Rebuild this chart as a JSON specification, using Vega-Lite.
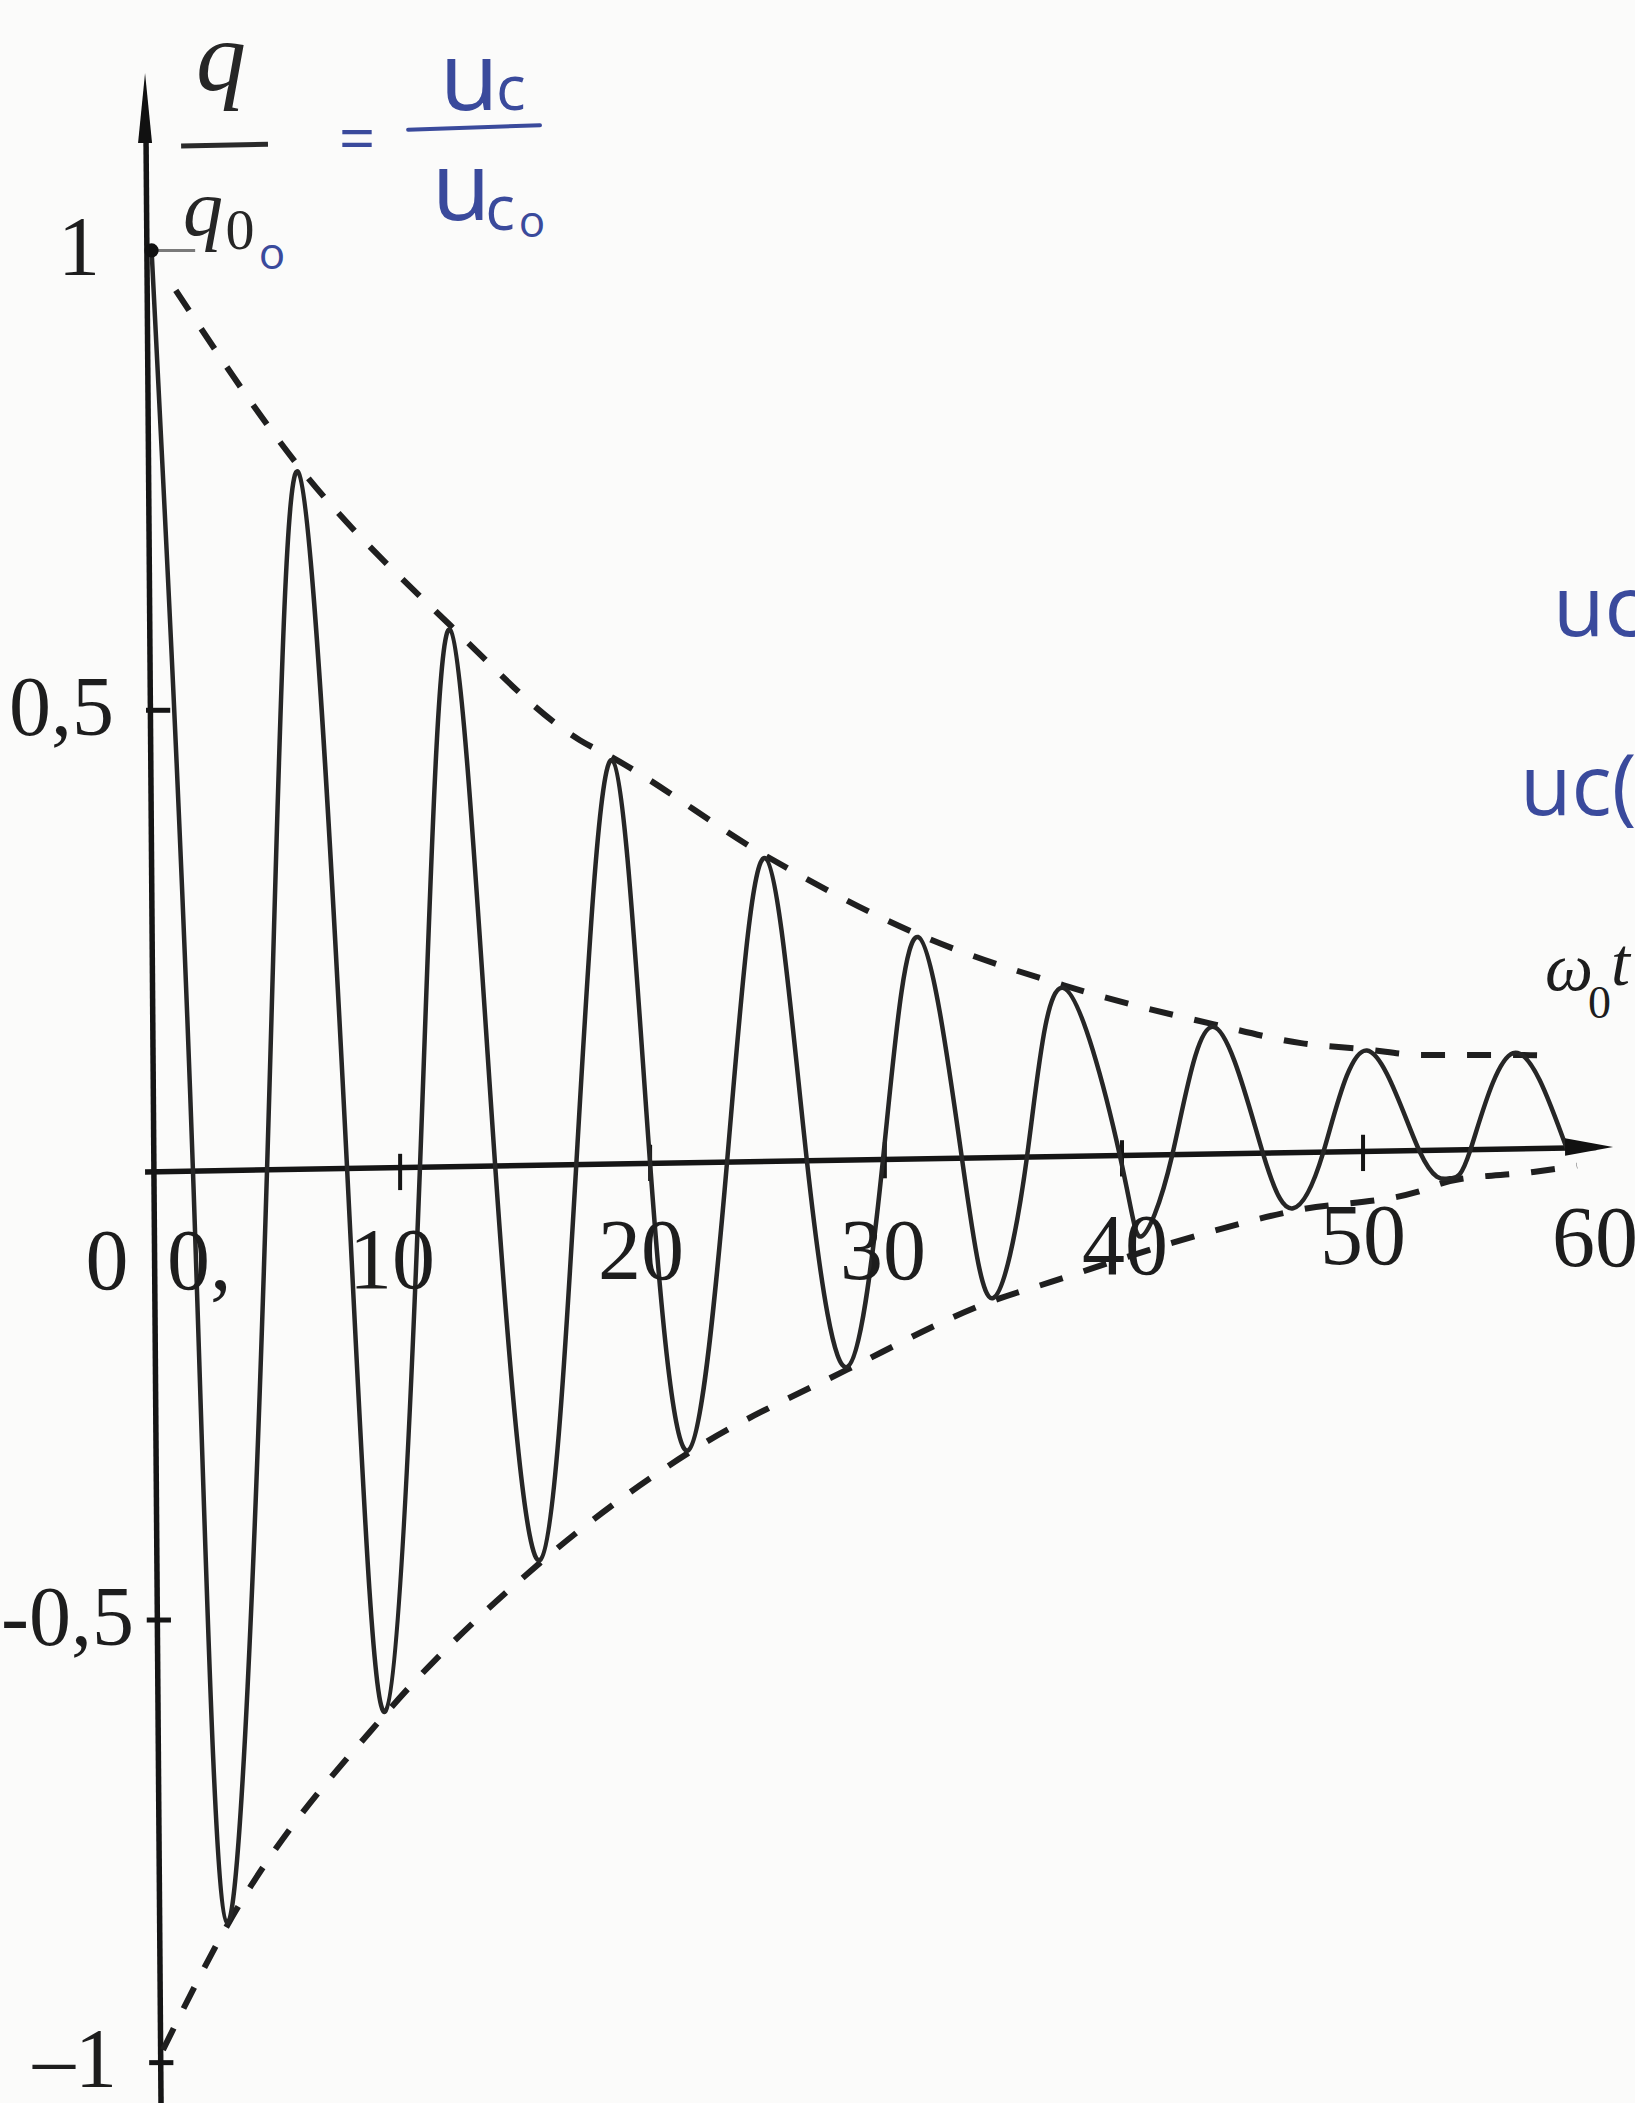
{
  "$schema": "https://vega.github.io/schema/vega-lite/v6.json",
  "width": 1635,
  "height": 2103,
  "autosize": "none",
  "padding": 0,
  "background": "#fbfbfa",
  "config": {"view": {"stroke": null}},
  "datasets": {
    "curve": [
      {"t": -0.1, "v": 1.005}, {"t": 1.61, "v": -0.010}, {"t": 3.02, "v": -0.839}, {"t": 4.67, "v": -0.009},
      {"t": 5.95, "v": 0.761}, {"t": 7.98, "v": -0.008}, {"t": 9.55, "v": -0.606}, {"t": 10.99, "v": -0.006},
      {"t": 12.23, "v": 0.587}, {"t": 14.1, "v": -0.005}, {"t": 15.95, "v": -0.439}, {"t": 17.45, "v": -0.003},
      {"t": 18.93, "v": 0.443}, {"t": 20.5, "v": -0.002}, {"t": 22.07, "v": -0.318}, {"t": 23.68, "v": 0.0},
      {"t": 25.25, "v": 0.335}, {"t": 26.98, "v": 0.001}, {"t": 28.64, "v": -0.226}, {"t": 30.12, "v": 0.002},
      {"t": 31.57, "v": 0.248}, {"t": 33.39, "v": 0.003}, {"t": 34.67, "v": -0.150}, {"t": 36.07, "v": 0.005},
      {"t": 37.56, "v": 0.192}, {"t": 39.92, "v": 0.006}, {"t": 40.8, "v": -0.082}, {"t": 42.07, "v": 0.007},
      {"t": 43.76, "v": 0.149}, {"t": 45.83, "v": 0.009}, {"t": 47.07, "v": -0.051}, {"t": 48.31, "v": 0.010},
      {"t": 50.12, "v": 0.123}, {"t": 52.31, "v": 0.011}, {"t": 53.55, "v": -0.018}, {"t": 54.38, "v": 0.012},
      {"t": 56.16, "v": 0.120}, {"t": 58.39, "v": 0.014}
    ],
    "upper": [
      {"t": 0.9, "v": 0.961}, {"t": 5.95, "v": 0.768}, {"t": 12.23, "v": 0.592}, {"t": 17.6, "v": 0.465},
      {"t": 18.93, "v": 0.446}, {"t": 25.25, "v": 0.338}, {"t": 31.57, "v": 0.251}, {"t": 37.56, "v": 0.195},
      {"t": 39.09, "v": 0.183}, {"t": 43.76, "v": 0.152}, {"t": 47.4, "v": 0.131}, {"t": 50.12, "v": 0.124},
      {"t": 52.4, "v": 0.118}, {"t": 56.16, "v": 0.118}, {"t": 57.8, "v": 0.117}
    ],
    "lower": [
      {"t": 0.37, "v": -0.979}, {"t": 3.02, "v": -0.842}, {"t": 9.55, "v": -0.609}, {"t": 15.95, "v": -0.442},
      {"t": 22.07, "v": -0.321}, {"t": 28.64, "v": -0.229}, {"t": 34.67, "v": -0.153}, {"t": 37.1, "v": -0.132},
      {"t": 42.1, "v": -0.089}, {"t": 47.07, "v": -0.054}, {"t": 52.2, "v": -0.033}, {"t": 53.55, "v": -0.021},
      {"t": 57.0, "v": -0.011}, {"t": 58.8, "v": -0.004}
    ],
    "axes": [
      {"name": "x", "t": -0.37, "v": -0.011, "t2": 59.6, "v2": 0.016},
      {"name": "y", "t": -0.33, "v": 1.13, "t2": 0.29, "v2": -1.0375}
    ],
    "xticks": [
      {"t": 10.17, "lo": -0.031, "hi": 0.009},
      {"t": 20.5, "lo": -0.021, "hi": 0.019},
      {"t": 30.2, "lo": -0.018, "hi": 0.022},
      {"t": 40.0, "lo": -0.016, "hi": 0.024},
      {"t": 49.96, "lo": -0.010, "hi": 0.030}
    ],
    "yticks": [
      {"v": 0.498, "lo": -0.33, "hi": 0.67},
      {"v": -0.505, "lo": -0.3, "hi": 0.7},
      {"v": -0.993, "lo": -0.2, "hi": 0.8}
    ],
    "fracbars": [
      {"ink": "print", "t": 1.12, "v": 1.120, "t2": 4.71, "v2": 1.122},
      {"ink": "pen", "t": 10.5, "v": 1.138, "t2": 15.95, "v2": 1.143}
    ],
    "leader": [{"t": -0.1, "v": 1.005, "t2": 1.7}],
    "origin": [{"t": -0.1, "v": 1.005}],
    "arrowY": [{"t": -0.37, "v": 1.162}],
    "arrowX": [{"t": 59.3, "v": 0.0165}],
    "ylabels": [
      {"t": -2.23, "v": 1.006, "label": "1"},
      {"t": -1.65, "v": 0.498, "label": "0,5"},
      {"t": -0.83, "v": -0.505, "label": "-0,5"},
      {"t": -1.53, "v": -0.992, "label": "–1"}
    ],
    "xlabels": [
      {"t": -1.94, "v": -0.111, "label": "0"},
      {"t": 9.83, "v": -0.110, "label": "10"},
      {"t": 20.12, "v": -0.100, "label": "20"},
      {"t": 30.12, "v": -0.100, "label": "30"},
      {"t": 40.12, "v": -0.095, "label": "40"},
      {"t": 49.96, "v": -0.084, "label": "50"},
      {"t": 59.55, "v": -0.086, "label": "60"}
    ],
    "extra": [{"t": 0.54, "v": -0.111, "label": "0,"}],
    "qtop": [{"t": 2.77, "v": 1.182, "label": "q"}],
    "qbottom": [{"t": 2.02, "v": 1.022, "label": "q"}],
    "qsub": [{"t": 3.55, "v": 1.025, "label": "0"}],
    "axisname": [
      {"part": "main", "t": 57.48, "v": 0.190, "label": "ω"},
      {"part": "main", "t": 60.21, "v": 0.195, "label": "t"},
      {"part": "sub", "t": 59.26, "v": 0.159, "label": "0"}
    ],
    "pen": [
      {"size": "u", "t": 13.02, "v": 1.160, "label": "u"},
      {"size": "c", "t": 14.75, "v": 1.160, "label": "c"},
      {"size": "u", "t": 12.69, "v": 1.039, "label": "u"},
      {"size": "c", "t": 14.30, "v": 1.028, "label": "c"},
      {"size": "o", "t": 15.62, "v": 1.020, "label": "o"},
      {"size": "o", "t": 4.88, "v": 0.985, "label": "o"},
      {"size": "eq", "t": 8.39, "v": 1.125, "label": "="}
    ],
    "margin": [
      {"t": 57.81, "v": 0.608, "label": "uc("},
      {"t": 56.45, "v": 0.410, "label": "uc("}
    ]
  },
  "layer": [
    {
      "data": {"name": "axes"},
      "mark": {"type": "rule", "color": "#151515", "strokeWidth": 5.5},
      "encoding": {
        "x": {"field": "t", "type": "quantitative", "scale": {"domain": [-6.364, 61.198], "nice": false, "zero": false}, "axis": null},
        "y": {"field": "v", "type": "quantitative", "scale": {"domain": [-1.0375, 1.2811], "nice": false, "zero": false}, "axis": null},
        "x2": {"field": "t2"},
        "y2": {"field": "v2"}
      }
    },
    {
      "data": {"name": "xticks"},
      "mark": {"type": "rule", "color": "#151515", "strokeWidth": 4},
      "encoding": {
        "x": {"field": "t", "type": "quantitative", "scale": {"domain": [-6.364, 61.198], "nice": false, "zero": false}, "axis": null},
        "y": {"field": "lo", "type": "quantitative", "scale": {"domain": [-1.0375, 1.2811], "nice": false, "zero": false}, "axis": null},
        "y2": {"field": "hi"}
      }
    },
    {
      "data": {"name": "yticks"},
      "mark": {"type": "rule", "color": "#151515", "strokeWidth": 5},
      "encoding": {
        "x": {"field": "lo", "type": "quantitative", "scale": {"domain": [-6.364, 61.198], "nice": false, "zero": false}, "axis": null},
        "x2": {"field": "hi"},
        "y": {"field": "v", "type": "quantitative", "scale": {"domain": [-1.0375, 1.2811], "nice": false, "zero": false}, "axis": null}
      }
    },
    {
      "data": {"name": "leader"},
      "mark": {"type": "rule", "color": "#7a7a7a", "strokeWidth": 3},
      "encoding": {
        "x": {"field": "t", "type": "quantitative", "scale": {"domain": [-6.364, 61.198], "nice": false, "zero": false}, "axis": null},
        "x2": {"field": "t2"},
        "y": {"field": "v", "type": "quantitative", "scale": {"domain": [-1.0375, 1.2811], "nice": false, "zero": false}, "axis": null}
      }
    },
    {
      "data": {"name": "upper"},
      "mark": {"type": "line", "color": "#1f1f1f", "strokeWidth": 6, "strokeDash": [24, 22], "interpolate": "monotone"},
      "encoding": {
        "x": {"field": "t", "type": "quantitative", "scale": {"domain": [-6.364, 61.198], "nice": false, "zero": false}, "axis": null},
        "y": {"field": "v", "type": "quantitative", "scale": {"domain": [-1.0375, 1.2811], "nice": false, "zero": false}, "axis": null}
      }
    },
    {
      "data": {"name": "lower"},
      "mark": {"type": "line", "color": "#1f1f1f", "strokeWidth": 6, "strokeDash": [24, 22], "interpolate": "monotone"},
      "encoding": {
        "x": {"field": "t", "type": "quantitative", "scale": {"domain": [-6.364, 61.198], "nice": false, "zero": false}, "axis": null},
        "y": {"field": "v", "type": "quantitative", "scale": {"domain": [-1.0375, 1.2811], "nice": false, "zero": false}, "axis": null}
      }
    },
    {
      "data": {"name": "curve"},
      "mark": {"type": "line", "color": "#262626", "strokeWidth": 4.5, "interpolate": "natural"},
      "encoding": {
        "x": {"field": "t", "type": "quantitative", "scale": {"domain": [-6.364, 61.198], "nice": false, "zero": false}, "axis": null},
        "y": {"field": "v", "type": "quantitative", "scale": {"domain": [-1.0375, 1.2811], "nice": false, "zero": false}, "axis": null}
      }
    },
    {
      "data": {"name": "origin"},
      "mark": {"type": "point", "filled": true, "color": "#111111", "opacity": 1, "size": 200},
      "encoding": {
        "x": {"field": "t", "type": "quantitative", "scale": {"domain": [-6.364, 61.198], "nice": false, "zero": false}, "axis": null},
        "y": {"field": "v", "type": "quantitative", "scale": {"domain": [-1.0375, 1.2811], "nice": false, "zero": false}, "axis": null}
      }
    },
    {
      "data": {"name": "arrowY"},
      "mark": {"type": "point", "filled": true, "color": "#111111", "opacity": 1, "size": 4900, "shape": "M0,-1L0.2,1L-0.2,1Z"},
      "encoding": {
        "x": {"field": "t", "type": "quantitative", "scale": {"domain": [-6.364, 61.198], "nice": false, "zero": false}, "axis": null},
        "y": {"field": "v", "type": "quantitative", "scale": {"domain": [-1.0375, 1.2811], "nice": false, "zero": false}, "axis": null}
      }
    },
    {
      "data": {"name": "arrowX"},
      "mark": {"type": "point", "filled": true, "color": "#111111", "opacity": 1, "size": 2304, "shape": "M1,0L-1,-0.36L-1,0.36Z"},
      "encoding": {
        "x": {"field": "t", "type": "quantitative", "scale": {"domain": [-6.364, 61.198], "nice": false, "zero": false}, "axis": null},
        "y": {"field": "v", "type": "quantitative", "scale": {"domain": [-1.0375, 1.2811], "nice": false, "zero": false}, "axis": null}
      }
    },
    {
      "data": {"name": "fracbars"},
      "transform": [{"filter": "datum.ink === 'print'"}],
      "mark": {"type": "rule", "color": "#2a2a2a", "strokeWidth": 5},
      "encoding": {
        "x": {"field": "t", "type": "quantitative", "scale": {"domain": [-6.364, 61.198], "nice": false, "zero": false}, "axis": null},
        "y": {"field": "v", "type": "quantitative", "scale": {"domain": [-1.0375, 1.2811], "nice": false, "zero": false}, "axis": null},
        "x2": {"field": "t2"},
        "y2": {"field": "v2"}
      }
    },
    {
      "data": {"name": "fracbars"},
      "transform": [{"filter": "datum.ink === 'pen'"}],
      "mark": {"type": "rule", "color": "#3a4a9c", "strokeWidth": 4, "strokeCap": "round"},
      "encoding": {
        "x": {"field": "t", "type": "quantitative", "scale": {"domain": [-6.364, 61.198], "nice": false, "zero": false}, "axis": null},
        "y": {"field": "v", "type": "quantitative", "scale": {"domain": [-1.0375, 1.2811], "nice": false, "zero": false}, "axis": null},
        "x2": {"field": "t2"},
        "y2": {"field": "v2"}
      }
    },
    {
      "data": {"name": "ylabels"},
      "mark": {"type": "text", "font": "Liberation Serif", "fontSize": 84, "color": "#1d1d1d", "align": "right", "baseline": "middle"},
      "encoding": {
        "x": {"field": "t", "type": "quantitative", "scale": {"domain": [-6.364, 61.198], "nice": false, "zero": false}, "axis": null},
        "y": {"field": "v", "type": "quantitative", "scale": {"domain": [-1.0375, 1.2811], "nice": false, "zero": false}, "axis": null},
        "text": {"field": "label"}
      }
    },
    {
      "data": {"name": "xlabels"},
      "mark": {"type": "text", "font": "Liberation Serif", "fontSize": 86, "color": "#1d1d1d", "align": "center", "baseline": "middle"},
      "encoding": {
        "x": {"field": "t", "type": "quantitative", "scale": {"domain": [-6.364, 61.198], "nice": false, "zero": false}, "axis": null},
        "y": {"field": "v", "type": "quantitative", "scale": {"domain": [-1.0375, 1.2811], "nice": false, "zero": false}, "axis": null},
        "text": {"field": "label"}
      }
    },
    {
      "data": {"name": "extra"},
      "mark": {"type": "text", "font": "Liberation Serif", "fontSize": 86, "color": "#1d1d1d", "align": "left", "baseline": "middle"},
      "encoding": {
        "x": {"field": "t", "type": "quantitative", "scale": {"domain": [-6.364, 61.198], "nice": false, "zero": false}, "axis": null},
        "y": {"field": "v", "type": "quantitative", "scale": {"domain": [-1.0375, 1.2811], "nice": false, "zero": false}, "axis": null},
        "text": {"field": "label"}
      }
    },
    {
      "data": {"name": "qtop"},
      "mark": {"type": "text", "font": "Liberation Serif", "fontStyle": "italic", "fontSize": 100, "color": "#262626", "align": "center", "baseline": "alphabetic"},
      "encoding": {
        "x": {"field": "t", "type": "quantitative", "scale": {"domain": [-6.364, 61.198], "nice": false, "zero": false}, "axis": null},
        "y": {"field": "v", "type": "quantitative", "scale": {"domain": [-1.0375, 1.2811], "nice": false, "zero": false}, "axis": null},
        "text": {"field": "label"}
      }
    },
    {
      "data": {"name": "qbottom"},
      "mark": {"type": "text", "font": "Liberation Serif", "fontStyle": "italic", "fontSize": 80, "color": "#262626", "align": "center", "baseline": "alphabetic"},
      "encoding": {
        "x": {"field": "t", "type": "quantitative", "scale": {"domain": [-6.364, 61.198], "nice": false, "zero": false}, "axis": null},
        "y": {"field": "v", "type": "quantitative", "scale": {"domain": [-1.0375, 1.2811], "nice": false, "zero": false}, "axis": null},
        "text": {"field": "label"}
      }
    },
    {
      "data": {"name": "qsub"},
      "mark": {"type": "text", "font": "Liberation Serif", "fontSize": 58, "color": "#262626", "align": "center", "baseline": "middle"},
      "encoding": {
        "x": {"field": "t", "type": "quantitative", "scale": {"domain": [-6.364, 61.198], "nice": false, "zero": false}, "axis": null},
        "y": {"field": "v", "type": "quantitative", "scale": {"domain": [-1.0375, 1.2811], "nice": false, "zero": false}, "axis": null},
        "text": {"field": "label"}
      }
    },
    {
      "data": {"name": "axisname"},
      "transform": [{"filter": "datum.part === 'main'"}],
      "mark": {"type": "text", "font": "Liberation Serif", "fontStyle": "italic", "fontSize": 68, "color": "#1d1d1d", "align": "left", "baseline": "alphabetic"},
      "encoding": {
        "x": {"field": "t", "type": "quantitative", "scale": {"domain": [-6.364, 61.198], "nice": false, "zero": false}, "axis": null},
        "y": {"field": "v", "type": "quantitative", "scale": {"domain": [-1.0375, 1.2811], "nice": false, "zero": false}, "axis": null},
        "text": {"field": "label"}
      }
    },
    {
      "data": {"name": "axisname"},
      "transform": [{"filter": "datum.part === 'sub'"}],
      "mark": {"type": "text", "font": "Liberation Serif", "fontSize": 46, "color": "#1d1d1d", "align": "left", "baseline": "alphabetic"},
      "encoding": {
        "x": {"field": "t", "type": "quantitative", "scale": {"domain": [-6.364, 61.198], "nice": false, "zero": false}, "axis": null},
        "y": {"field": "v", "type": "quantitative", "scale": {"domain": [-1.0375, 1.2811], "nice": false, "zero": false}, "axis": null},
        "text": {"field": "label"}
      }
    },
    {
      "data": {"name": "pen"},
      "transform": [{"filter": "datum.size === 'u'"}],
      "mark": {"type": "text", "font": "Open Sans", "fontSize": 96, "color": "#3a4a9c", "align": "center", "baseline": "alphabetic"},
      "encoding": {
        "x": {"field": "t", "type": "quantitative", "scale": {"domain": [-6.364, 61.198], "nice": false, "zero": false}, "axis": null},
        "y": {"field": "v", "type": "quantitative", "scale": {"domain": [-1.0375, 1.2811], "nice": false, "zero": false}, "axis": null},
        "text": {"field": "label"}
      }
    },
    {
      "data": {"name": "pen"},
      "transform": [{"filter": "datum.size === 'c'"}],
      "mark": {"type": "text", "font": "Open Sans", "fontSize": 62, "color": "#3a4a9c", "align": "center", "baseline": "alphabetic"},
      "encoding": {
        "x": {"field": "t", "type": "quantitative", "scale": {"domain": [-6.364, 61.198], "nice": false, "zero": false}, "axis": null},
        "y": {"field": "v", "type": "quantitative", "scale": {"domain": [-1.0375, 1.2811], "nice": false, "zero": false}, "axis": null},
        "text": {"field": "label"}
      }
    },
    {
      "data": {"name": "pen"},
      "transform": [{"filter": "datum.size === 'o'"}],
      "mark": {"type": "text", "font": "Open Sans", "fontSize": 44, "color": "#3a4a9c", "align": "center", "baseline": "alphabetic"},
      "encoding": {
        "x": {"field": "t", "type": "quantitative", "scale": {"domain": [-6.364, 61.198], "nice": false, "zero": false}, "axis": null},
        "y": {"field": "v", "type": "quantitative", "scale": {"domain": [-1.0375, 1.2811], "nice": false, "zero": false}, "axis": null},
        "text": {"field": "label"}
      }
    },
    {
      "data": {"name": "pen"},
      "transform": [{"filter": "datum.size === 'eq'"}],
      "mark": {"type": "text", "font": "Open Sans", "fontSize": 64, "color": "#3a4a9c", "align": "center", "baseline": "middle"},
      "encoding": {
        "x": {"field": "t", "type": "quantitative", "scale": {"domain": [-6.364, 61.198], "nice": false, "zero": false}, "axis": null},
        "y": {"field": "v", "type": "quantitative", "scale": {"domain": [-1.0375, 1.2811], "nice": false, "zero": false}, "axis": null},
        "text": {"field": "label"}
      }
    },
    {
      "data": {"name": "margin"},
      "mark": {"type": "text", "font": "Open Sans", "fontSize": 84, "color": "#3a4a9c", "align": "left", "baseline": "middle"},
      "encoding": {
        "x": {"field": "t", "type": "quantitative", "scale": {"domain": [-6.364, 61.198], "nice": false, "zero": false}, "axis": null},
        "y": {"field": "v", "type": "quantitative", "scale": {"domain": [-1.0375, 1.2811], "nice": false, "zero": false}, "axis": null},
        "text": {"field": "label"}
      }
    }
  ]
}
